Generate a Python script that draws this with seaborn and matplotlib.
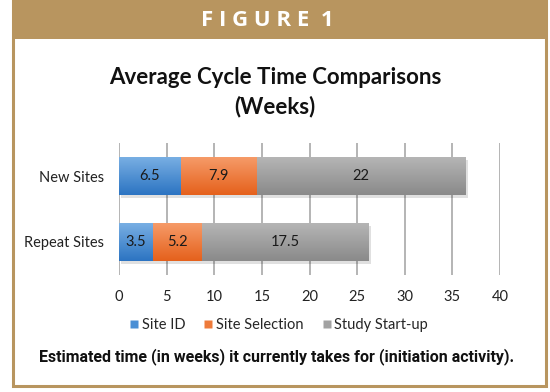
import matplotlib
matplotlib.use("Agg")
import matplotlib.pyplot as plt
import seaborn as sns
import pandas as pd
import numpy as np
from matplotlib.patches import Rectangle
from matplotlib.lines import Line2D
from matplotlib.colors import LinearSegmentedColormap, to_hex

categories = ["New Sites", "Repeat Sites"]
site_id = [6.5, 3.5]
site_selection = [7.9, 5.2]
study_startup = [22, 17.5]
series_names = ["Site ID", "Site Selection", "Study Start-up"]
x_ticks = [0, 5, 10, 15, 20, 25, 30, 35, 40]

colors = ["#4A8FD5", "#EE7A3A", "#A2A2A2"]
grad_top = ["#7AB0E4", "#F69C6A", "#B6B6B6"]
grad_bot = ["#2C74C2", "#E5611C", "#8A8A8A"]
tan = "#B8955F"

sns.set_theme(style="white")
plt.rcParams["font.family"] = ["Lato", "DejaVu Sans"]

df = pd.DataFrame({"cat": categories, "id": site_id, "sel": site_selection, "ss": study_startup})
df["c1"] = df["id"]
df["c2"] = df["id"] + df["sel"]
df["c3"] = df["c2"] + df["ss"]

fig = plt.figure(figsize=(5.5, 3.92), dpi=100)
ax = fig.add_axes([119/550, (392-275)/392, 381/550, 132/392])

for col, c in zip(["c3", "c2", "c1"], colors[::-1]):
    sns.barplot(data=df, x=col, y="cat", orient="h", color=c, width=0.58,
                ax=ax, saturation=1, linewidth=0, zorder=3)

ax.set_xlim(0, 40)
ax.set_ylim(1.5, -0.5)

# gradient fill clipped to each bar, plus soft shadow
hexmap = {to_hex(c).lower(): i for i, c in enumerate(colors)}
for p in list(ax.patches):
    idx = hexmap.get(to_hex(p.get_facecolor()).lower())
    if idx is None:
        continue
    x0, y0 = p.get_x(), p.get_y()
    w, h = p.get_width(), p.get_height()
    if idx == 2:
        sh = Rectangle((x0 + 0.25, y0 + 0.04), w, h, facecolor="#000000", alpha=0.12,
                       linewidth=0, zorder=2)
        ax.add_patch(sh)
    cmap = LinearSegmentedColormap.from_list("g", [grad_top[idx], grad_bot[idx]])
    grad = np.linspace(0, 1, 64).reshape(-1, 1)
    im = ax.imshow(grad, cmap=cmap, aspect="auto", extent=(x0, x0 + w, y0 + h, y0),
                   zorder=3.5 + 0.1 * (2 - idx), interpolation="bilinear")
    im.set_clip_path(p)
ax.set_xlim(0, 40)
ax.set_ylim(1.5, -0.5)

# bar labels
vals = [site_id, site_selection, study_startup]
for i, cat in enumerate(categories):
    left = 0
    for v in vals:
        w = v[i]
        ax.text(left + w / 2, i, f"{w:g}", ha="center", va="center",
                fontsize=10.5, color="#1a1a1a", zorder=6)
        left += w

ax.set_xticks(x_ticks)
ax.set_xticklabels([str(t) for t in x_ticks])
ax.xaxis.grid(True, color="#A0A0A0", linewidth=1.1, zorder=0)
ax.yaxis.grid(False)
ax.set_axisbelow(True)
for s in ax.spines.values():
    s.set_visible(False)
ax.tick_params(axis="x", length=0, pad=11, labelsize=10.5, labelcolor="#222222")
ax.tick_params(axis="y", length=0, pad=11, labelsize=10.5, labelcolor="#222222")
ax.set_xlabel("")
ax.set_ylabel("")

# frame and header
fig.patches.append(Rectangle((13/550, (392-386)/392), 533/550, 385/392, transform=fig.transFigure,
                             fill=False, edgecolor=tan, linewidth=2.2, zorder=0))
fig.patches.append(Rectangle((13/550, (392-39)/392), 535/550, 38/392, transform=fig.transFigure,
                             facecolor=tan, edgecolor="none", zorder=1))
fig.text(267/550, 1 - 21/392, "F I G U R E  1", ha="center", va="center", color="white",
         fontsize=16, fontweight="bold", family=["Open Sans", "DejaVu Sans"])

fig.text(275/550, 1 - 78/392, "Average Cycle Time Comparisons", ha="center", va="center",
         fontsize=16, fontweight="bold", color="#111111")
fig.text(275/550, 1 - 107/392, "(Weeks)", ha="center", va="center",
         fontsize=16, fontweight="bold", color="#111111")

handles = [Line2D([], [], marker="s", linestyle="none", markersize=6, markerfacecolor=c,
                  markeredgecolor="none") for c in colors]
fig.legend(handles, series_names, loc="center", bbox_to_anchor=(278/550, 1 - 325/392), ncol=3,
           frameon=False, fontsize=10.5, handletextpad=0.1, columnspacing=1.2, handlelength=0.8)

fig.text(277/550, 1 - 357/392, "Estimated time (in weeks) it currently takes for (initiation activity).",
         ha="center", va="center", fontsize=11.5, fontweight="bold", color="#111111",
         family=["Roboto", "DejaVu Sans"])

fig.savefig("out.png", dpi=100)
